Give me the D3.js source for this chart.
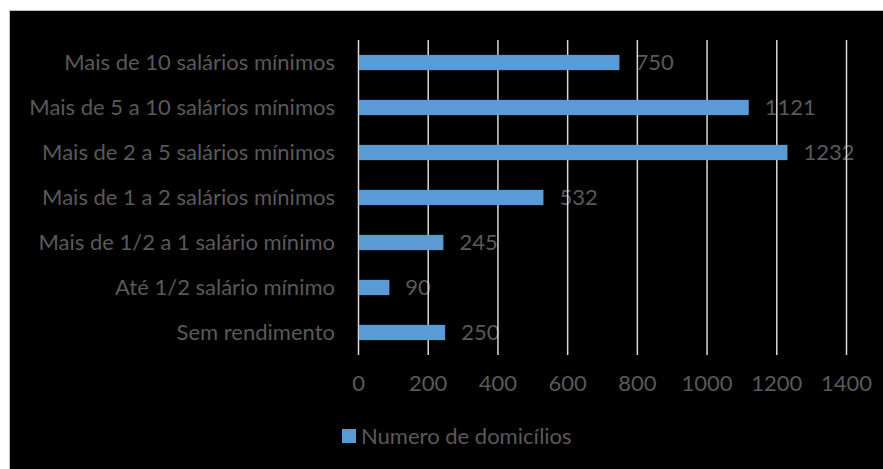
<!DOCTYPE html>
<html><head><meta charset="utf-8">
<script src="https://cdn.jsdelivr.net/npm/d3@7"></script>
<style>html,body{margin:0;padding:0;background:#fff;}svg{display:block;}</style>
</head><body>
<svg id="c" width="883" height="469"></svg>
<script>
const categories = ["Mais de 10 salários mínimos","Mais de 5 a 10 salários mínimos","Mais de 2 a 5 salários mínimos","Mais de 1 a 2 salários mínimos","Mais de 1/2 a 1 salário mínimo","Até 1/2 salário mínimo","Sem rendimento"];
const values = [750,1121,1232,532,245,90,250];
const tickValues = [0,200,400,600,800,1000,1200,1400];
const seriesName = "Numero de domicílios";

const svg = d3.select("#c");
const font = "Lato, 'Open Sans', sans-serif";
const fs = 22;
const txt = "#595959";
svg.append("rect").attr("x",9.5).attr("y",10.5).attr("width",883).attr("height",469).attr("fill","#000").attr("stroke","#bfbfbf").attr("stroke-width",1);

const x = d3.scaleLinear().domain([0,1400]).range([358,846]);
const y = d3.scaleBand().domain(categories).range([40,355]).paddingInner(0.66).paddingOuter(0.33);

const g = svg.append("g");
g.selectAll("text.val").data(values).enter().append("text")
  .attr("x",d=>x(d)+16).attr("y",(d,i)=>y(categories[i])+y.bandwidth()/2)
  .attr("dy","0.35em").attr("fill",txt).attr("font-family",font).attr("font-size",fs)
  .text(d=>d);

g.selectAll("line.grid").data(tickValues).enter().append("line")
  .attr("x1",d=>x(d)+0.5).attr("x2",d=>x(d)+0.5).attr("y1",40).attr("y2",355)
  .attr("stroke","#d9d9d9").attr("stroke-width",1.5);

g.selectAll("rect.bar").data(values).enter().append("rect")
  .attr("x",x(0)+1).attr("y",(d,i)=>y(categories[i]))
  .attr("width",d=>x(d)-x(0)-1).attr("height",y.bandwidth())
  .attr("fill","#5b9bd5");

g.selectAll("text.cat").data(categories).enter().append("text")
  .attr("x",335).attr("y",d=>y(d)+y.bandwidth()/2).attr("dy","0.35em")
  .attr("text-anchor","end").attr("fill",txt).attr("font-family",font).attr("font-size",fs)
  .text(d=>d);

const axis = d3.axisBottom(x).tickValues(tickValues).tickFormat(d3.format("d")).tickSize(0).tickPadding(0);
const ax = svg.append("g").attr("transform","translate(0,383)").call(axis);
ax.select(".domain").remove();
ax.selectAll("text").attr("fill",txt).attr("font-family",font).attr("font-size",fs).attr("dy","0.35em").attr("y",0);

svg.append("rect").attr("x",342).attr("y",429).attr("width",14).attr("height",14).attr("fill","#5b9bd5");
svg.append("text").attr("x",361).attr("y",436).attr("dy","0.35em").attr("fill",txt).attr("font-family",font).attr("font-size",fs).text(seriesName);
</script>
</body></html>
